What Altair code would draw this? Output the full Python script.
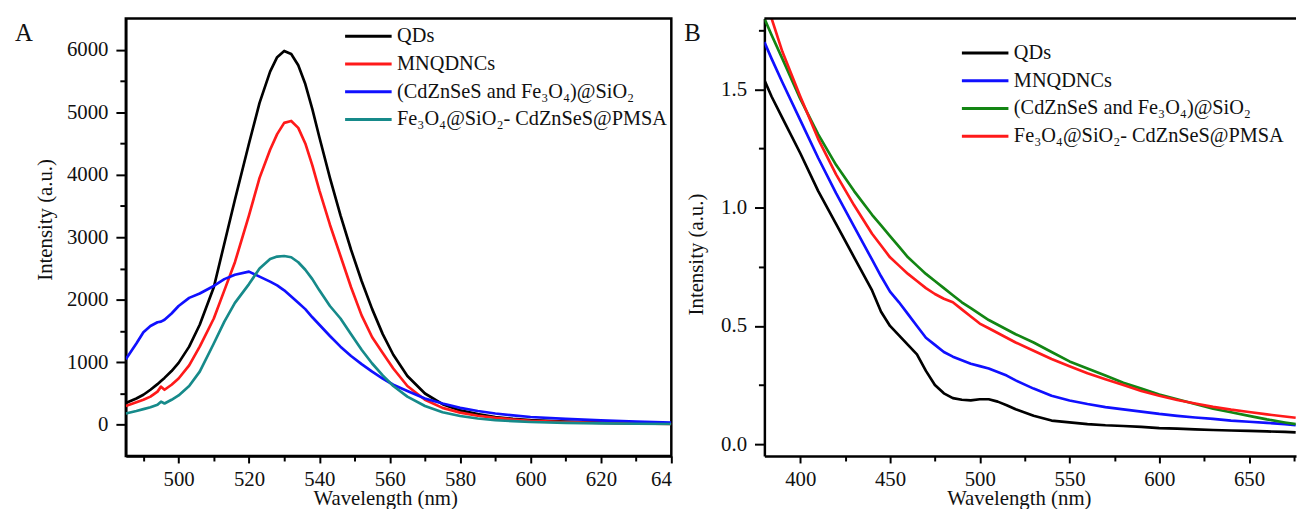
import altair as alt
import pandas as pd

FONT = "'Liberation Serif', 'Times New Roman', Times, 'DejaVu Serif', serif"

series = ["QDs", "MNQDNCs", "(CdZnSeS and Fe₃O₄)@SiO₂", "Fe₃O₄@SiO₂- CdZnSeS@PMSA"]
colors_a = ["#000000", "#ff1a1a", "#1010ff", "#168a8a"]
colors_b = ["#000000", "#1010ff", "#138513", "#ff1a1a"]
panel_labels = ["A", "B"]

# ---- Panel A: photoluminescence spectra ----
wl_a = [485, 488, 490, 492, 494, 495, 496, 498, 500, 503, 506, 510, 513, 516, 520, 523, 526, 528,
        530, 532, 534, 536, 538, 540, 543, 546, 549, 552, 555, 558, 561, 565, 570, 575, 580, 585,
        590, 595, 600, 610, 620, 630, 640]
pl_qds = [350, 420, 480, 560, 650, 700, 750, 860, 990, 1250, 1600, 2200, 2900, 3600, 4500, 5150,
          5650, 5880, 5980, 5930, 5750, 5450, 5050, 4600, 3950, 3350, 2800, 2300, 1850, 1450, 1120,
          780, 500, 330, 230, 170, 125, 95, 75, 50, 35, 25, 18]
pl_mnqdncs = [300, 360, 400, 450, 530, 610, 560, 640, 740, 950, 1250, 1700, 2150, 2600, 3350, 3950,
              4400, 4650, 4830, 4860, 4750, 4500, 4150, 3750, 3200, 2700, 2200, 1750, 1400, 1150,
              900, 620, 400, 270, 195, 145, 110, 85, 65, 45, 30, 22, 15]
pl_mix = [1050, 1300, 1480, 1580, 1640, 1650, 1680, 1780, 1900, 2030, 2100, 2220, 2330, 2400, 2450,
          2370, 2290, 2230, 2150, 2050, 1950, 1850, 1720, 1600, 1420, 1250, 1100, 970, 850, 740,
          640, 540, 420, 340, 270, 220, 180, 150, 125, 95, 70, 50, 35]
pl_pmsa = [180, 220, 250, 280, 320, 370, 340, 400, 470, 620, 850, 1300, 1650, 1950, 2250, 2500,
           2650, 2690, 2700, 2680, 2600, 2480, 2330, 2150, 1900, 1700, 1450, 1200, 980, 790, 620,
           450, 300, 200, 140, 100, 75, 58, 45, 30, 22, 16, 12]

# ---- Panel B: absorption spectra ----
wl_b = [380, 384, 390, 400, 410, 420, 430, 440, 445, 450, 455, 460, 465, 470, 475, 480, 485, 490,
        495, 500, 505, 510, 515, 520, 530, 540, 550, 560, 570, 580, 590, 600, 610, 620, 630, 640,
        650, 660, 670, 676]
uv_qds = [1.54, 1.47, 1.38, 1.23, 1.07, 0.93, 0.79, 0.65, 0.56, 0.50, 0.46, 0.42, 0.38, 0.31, 0.25,
          0.215, 0.195, 0.188, 0.185, 0.19, 0.19, 0.18, 0.165, 0.148, 0.12, 0.10, 0.092, 0.085,
          0.08, 0.077, 0.073, 0.068, 0.066, 0.063, 0.06, 0.058, 0.056, 0.054, 0.052, 0.05]
uv_mnqdncs = [1.70, 1.63, 1.53, 1.37, 1.21, 1.06, 0.92, 0.78, 0.71, 0.645, 0.60, 0.55, 0.50, 0.45,
              0.42, 0.39, 0.37, 0.355, 0.34, 0.33, 0.32, 0.305, 0.29, 0.27, 0.235, 0.205, 0.185,
              0.17, 0.157, 0.147, 0.138, 0.128, 0.12, 0.113, 0.107, 0.10, 0.095, 0.09, 0.085, 0.08]
uv_mix = [1.80, 1.73, 1.63, 1.46, 1.31, 1.18, 1.07, 0.97, 0.925, 0.88, 0.835, 0.79, 0.755, 0.72,
          0.69, 0.66, 0.63, 0.60, 0.575, 0.55, 0.525, 0.505, 0.485, 0.465, 0.43, 0.39, 0.35, 0.32,
          0.29, 0.26, 0.235, 0.21, 0.19, 0.17, 0.15, 0.135, 0.12, 0.105, 0.092, 0.085]
uv_pmsa = [1.88, 1.80, 1.66, 1.47, 1.29, 1.14, 1.01, 0.89, 0.84, 0.79, 0.755, 0.72, 0.69, 0.66,
           0.635, 0.615, 0.60, 0.57, 0.54, 0.51, 0.49, 0.47, 0.45, 0.43, 0.395, 0.36, 0.33, 0.30,
           0.275, 0.25, 0.225, 0.205, 0.187, 0.172, 0.158, 0.146, 0.136, 0.126, 0.117, 0.112]

xticks_a = list(range(490, 641, 10))
yticks_a = list(range(0, 6001, 500))
xticks_b = list(range(400, 676, 25))
yticks_b = [0, 0.25, 0.5, 0.75, 1.0, 1.25, 1.5, 1.75]


def long_frame(wl, cols):
    rows = []
    for name, vals in zip(series, cols):
        for w, v in zip(wl, vals):
            rows.append({"wl": w, "val": v, "series": name})
    return pd.DataFrame(rows)


df_a = long_frame(wl_a, [pl_qds, pl_mnqdncs, pl_mix, pl_pmsa])
df_b = long_frame(wl_b, [uv_qds, uv_mnqdncs, uv_mix, uv_pmsa])

WA, WB, H = 551, 537, 442

x_a = alt.X("wl:Q", scale=alt.Scale(domain=[485, 640], nice=False, zero=False),
            axis=alt.Axis(values=xticks_a, title="Wavelength (nm)", titleX=262, titleY=49,
                          titleBaseline="alphabetic", titleAlign="center",
                          tickSize={"condition": {"test": "datum.value % 20 === 0", "value": 7}, "value": 5},
                          labelExpr="datum.value % 20 === 0 ? (datum.value === 640 ? '64' : datum.label) : ''",
                          labelAlign={"condition": {"test": "datum.value === 640", "value": "right"}, "value": "center"},
                          labelFlush=False, labelOverlap=False, labelPadding=6, format="d"))
y_a = alt.Y("val:Q", scale=alt.Scale(domain=[-500, 6500], nice=False, zero=False),
            axis=alt.Axis(values=yticks_a, title="Intensity (a.u.)", titleX=-81.5, titleY=203,
                          titleAngle=270, titleBaseline="middle", titleAlign="center",
                          tickSize={"condition": {"test": "datum.value % 1000 === 0", "value": 10}, "value": 6},
                          labelExpr="datum.value % 1000 === 0 ? datum.label : ''",
                          labelFlush=False, labelOverlap=False, labelPadding=8, format="d"))
color_a = alt.Color("series:N", scale=alt.Scale(domain=series, range=colors_a),
                    legend=alt.Legend(orient="none", legendX=220, legendY=8, title=None))

lines_a = alt.Chart(df_a).mark_line(strokeWidth=2.7, clip=True, strokeJoin="round").encode(
    x=x_a, y=y_a, color=color_a)
label_a = alt.Chart(pd.DataFrame({"t": [panel_labels[0]]})).mark_text(
    align="left", baseline="middle", fontSize=25, font=FONT, color="#111").encode(
    text="t:N", x=alt.value(-112), y=alt.value(15))
panel_a = alt.layer(lines_a, label_a).properties(width=WA, height=H)

x_b = alt.X("wl:Q", scale=alt.Scale(domain=[380, 676.2], nice=False, zero=False),
            axis=alt.Axis(values=xticks_b, title="Wavelength (nm)", titleX=257, titleY=49,
                          titleBaseline="alphabetic", titleAlign="center",
                          tickSize={"condition": {"test": "datum.value % 50 === 0", "value": 7}, "value": 5},
                          labelExpr="datum.value % 50 === 0 ? datum.label : ''",
                          labelFlush=False, labelOverlap=False, labelPadding=6, format="d"))
y_b = alt.Y("val:Q", scale=alt.Scale(domain=[-0.05, 1.8], nice=False, zero=False),
            axis=alt.Axis(values=yticks_b, title="Intensity (a.u.)", titleX=-68, titleY=238,
                          titleAngle=270, titleBaseline="middle", titleAlign="center",
                          tickSize={"condition": {"test": "datum.value % 0.5 === 0", "value": 10}, "value": 6},
                          labelExpr="datum.value % 0.5 === 0 ? datum.label : ''",
                          labelFlush=False, labelOverlap=False, labelPadding=8, format=".1f"))
color_b = alt.Color("series:N", scale=alt.Scale(domain=series, range=colors_b),
                    legend=alt.Legend(orient="none", legendX=198, legendY=25, title=None))

lines_b = alt.Chart(df_b).mark_line(strokeWidth=2.7, clip=True, strokeJoin="round").encode(
    x=x_b, y=y_b, color=color_b)
top_b = alt.Chart(pd.DataFrame({"t": [0]})).mark_rule(color="black", strokeWidth=2.5).encode(
    x=alt.value(0), x2=alt.value(WB), y=alt.value(0))
label_b = alt.Chart(pd.DataFrame({"t": [panel_labels[1]]})).mark_text(
    align="left", baseline="middle", fontSize=25, font=FONT, color="#111").encode(
    text="t:N", x=alt.value(-81), y=alt.value(15))
panel_b = alt.layer(lines_b, top_b, label_b).properties(
    width=WB, height=H, view=alt.ViewBackground(stroke="transparent"))

chart = alt.hconcat(panel_a, panel_b, spacing=94, bounds="flush").resolve_scale(
    color="independent"
).properties(
    padding={"left": 5, "top": 5, "right": 0, "bottom": 0}
).configure_view(
    stroke="black", strokeWidth=2.5
).configure_axis(
    grid=False, domainColor="black", domainWidth=2.5, tickColor="black", tickWidth=2,
    labelFont=FONT, labelFontSize=21, labelColor="#111",
    titleFont=FONT, titleFontSize=21, titleFontWeight="normal", titleColor="#111"
).configure_legend(
    labelFont=FONT, labelFontSize=20.5, labelColor="#111", labelLimit=500,
    symbolType="stroke", symbolSize=2209, symbolStrokeWidth=3, clipHeight=20,
    rowPadding=7, padding=0, labelOffset=4
)

chart.save("out.html", embed_options={"renderer": "svg", "actions": False})
